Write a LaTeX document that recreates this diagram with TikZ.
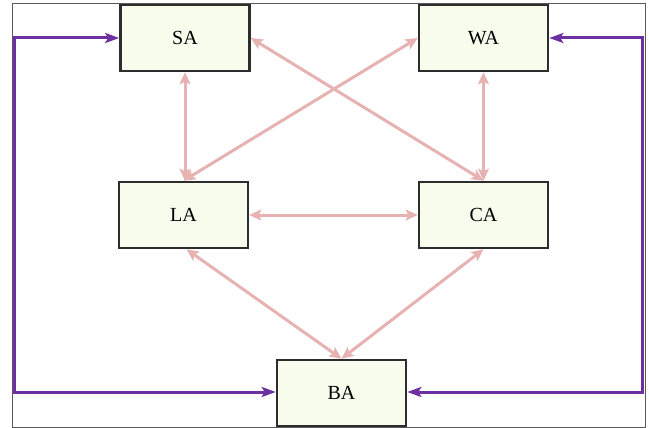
\documentclass[tikz,border=0pt]{standalone}
\usepackage{fontspec}
\setmainfont{Liberation Serif}
\usetikzlibrary{arrows.meta}
\definecolor{boxfill}{RGB}{247,252,236}
\definecolor{boxline}{RGB}{45,45,45}
\definecolor{linkpink}{RGB}{230,178,178}
\definecolor{loopviolet}{RGB}{108,48,160}
\definecolor{framegray}{RGB}{90,90,90}
\begin{document}
\begin{tikzpicture}[x=1pt,y=-1pt,
  region/.style={draw=boxline,line width=2.6pt,fill=boxfill,
    minimum width=129pt,minimum height=66pt,inner sep=0pt,
    font=\fontsize{20}{22}\selectfont},
  link/.style={draw=linkpink,line width=3pt,
    {Stealth[length=12pt,width=11pt,inset=2.5pt]}-{Stealth[length=12pt,width=11pt,inset=2.5pt]}},
  loop/.style={draw=loopviolet,line width=3pt,line join=miter,
    {Stealth[length=14pt,width=10pt,inset=3pt]}-{Stealth[length=14pt,width=10pt,inset=3pt]}}]
  \useasboundingbox (0,0) rectangle (649,428);
  % outer frame
  \draw[framegray,line width=1pt] (12,4) rectangle (645.5,427);

  % regions
  \node[region] (SA) at (185,38) {SA};
  \node[region] (WA) at (483.5,38) {WA};
  \node[region] (LA) at (183.5,215) {LA};
  \node[region] (CA) at (483.5,215) {CA};
  \node[region] (BA) at (341.5,393) {BA};

  % corners of the two side loops
  \coordinate (lt) at (14,38);
  \coordinate (lb) at (14,392);
  \coordinate (rt) at (642.5,38);
  \coordinate (rb) at (642.5,392);

  % links between the regions
  \draw[link] (SA.south) -- (SA.south |- LA.north);
  \draw[link] (WA.south) -- (CA.north);
  \draw[link] (LA.east) -- (CA.west);
  \draw[link] (LA.north) -- (WA.west);
  \draw[link] (SA.east) -- (CA.north);
  \draw[link] ([xshift=3pt]LA.south) -- (BA.north);
  \draw[link] (CA.south) -- (BA.north);

  % side loops
  \draw[loop] (SA.west) -- (lt) -- (lb) -- (lb -| BA.west);
  \draw[loop] (WA.east) -- (rt) -- (rb) -- (rb -| BA.east);
\end{tikzpicture}
\end{document}
